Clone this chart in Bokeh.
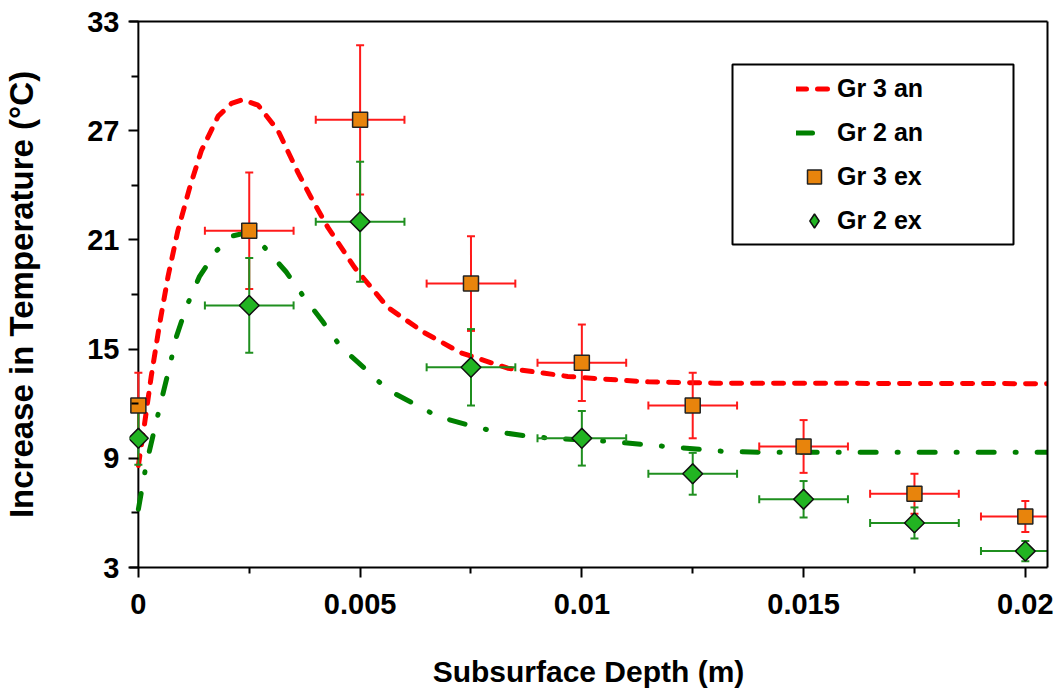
import math
from bokeh.plotting import figure
from bokeh.models import (Range1d, FixedTicker, LinearAxis, Legend, LegendItem, Span,
                          BoxAnnotation)
from bokeh.embed import file_html
from bokeh.resources import INLINE

# ---- data ----
depth = [0, 0.0025, 0.005, 0.0075, 0.01, 0.0125, 0.015, 0.0175, 0.02]
depth_err = [0, 0.001, 0.001, 0.001, 0.001, 0.001, 0.001, 0.001, 0.001]
gr3_ex = [11.9, 21.5, 27.6, 18.6, 14.25, 11.9, 9.65, 7.05, 5.8]
gr3_err = [1.8, 3.2, 4.1, 2.6, 2.1, 1.8, 1.45, 1.1, 0.85]
gr2_ex = [10.1, 17.4, 22.0, 14.0, 10.1, 8.15, 6.75, 5.45, 3.9]
gr2_err = [1.45, 2.6, 3.3, 2.1, 1.5, 1.15, 1.0, 0.85, 0.55]

an3_x = [0, 0.00014, 0.00029, 0.00048, 0.00067, 0.00089, 0.00116, 0.00142, 0.0018,
         0.0021, 0.00235, 0.0027, 0.00315, 0.0036, 0.0039, 0.00427, 0.00487, 0.00562,
         0.00645, 0.00727, 0.00833, 0.00968, 0.0105, 0.0115, 0.013, 0.0205]
an3_y = [8.6, 10.9, 13.5, 16.4, 19.0, 21.5, 23.9, 25.9, 27.8,
         28.5, 28.7, 28.4, 27.0, 24.7, 23.3, 21.7, 19.5, 17.3,
         15.9, 14.8, 13.95, 13.5, 13.35, 13.2, 13.13, 13.1]

an2_x = [0, 0.00018, 0.00052, 0.0007, 0.00086, 0.00108, 0.00138, 0.00176, 0.0021,
         0.00245, 0.00284, 0.00333, 0.00375, 0.00416, 0.00457, 0.0051, 0.00562,
         0.00619, 0.00675, 0.00742, 0.00802, 0.0087, 0.0093, 0.0106, 0.0119, 0.0132,
         0.014, 0.0205]
an2_y = [6.2, 8.7, 12.2, 14.0, 15.7, 17.3, 19.0, 20.4, 21.2,
         21.4, 20.6, 19.25, 17.8, 16.5, 15.1, 13.95, 12.76,
         12.03, 11.3, 10.84, 10.48, 10.24, 10.1, 9.93, 9.65, 9.38,
         9.33, 9.33]

x_ticks = [0, 0.005, 0.01, 0.015, 0.02]
x_tick_labels = ["0", "0.005", "0.01", "0.015", "0.02"]
x_minor = [0.0025, 0.0075, 0.0125, 0.0175]
y_ticks = [3, 9, 15, 21, 27, 33]
y_minor = [6, 12, 18, 24, 30]

FONT = "Liberation Sans"
RED = "#FF0000"
GREEN = "#008000"
RED_BAR = "#FF1A1A"
GREEN_BAR = "#1F8F1F"
SQ_FILL = "#E8840C"
DM_FILL = "#22B422"

p = figure(width=1057, height=690,
           x_range=Range1d(-0.0002, 0.0205), y_range=Range1d(3, 33),
           output_backend="svg", toolbar_location=None,
           min_border_left=128, min_border_right=10,
           min_border_top=21, min_border_bottom=122)
p.grid.visible = False
p.outline_line_color = None

# axes
xa = p.xaxis[0]
xa.ticker = FixedTicker(ticks=x_ticks, minor_ticks=x_minor)
xa.major_label_overrides = {t: l for t, l in zip(x_ticks, x_tick_labels)}
xa.axis_label = "Subsurface Depth (m)"
xa.major_tick_out = 10
xa.major_tick_in = 0
xa.minor_tick_out = 6
xa.minor_tick_in = 0
xa.major_label_standoff = 16
xa.axis_label_standoff = 38
xa.axis_line_width = 2
xa.axis_line_color = "black"
xa.axis_label_text_font_size = "30px"

ya = p.yaxis[0]
ya.ticker = FixedTicker(ticks=y_ticks, minor_ticks=y_minor)
ya.axis_label = "Increase in Temperature (°C)"
ya.axis_line_color = None
ya.major_tick_in = 9
ya.major_tick_out = 1
ya.minor_tick_in = 9
ya.minor_tick_out = -2
ya.major_label_standoff = 9
ya.axis_label_standoff = 44
ya.axis_label_text_font_size = "33px"

for ax in (xa, ya):
    ax.major_tick_line_width = 2
    ax.minor_tick_line_width = 2
    ax.major_tick_line_color = "black"
    ax.minor_tick_line_color = "black"
    ax.major_label_text_font = FONT
    ax.major_label_text_font_style = "bold"
    ax.major_label_text_font_size = "29px"
    ax.major_label_text_color = "black"
    ax.axis_label_text_font = FONT
    ax.axis_label_text_font_style = "bold"
    ax.axis_label_text_color = "black"

# visible y axis line at depth 0
p.add_layout(Span(location=0, dimension="height", line_color="black",
                  line_width=2, level="underlay"))

for loc in ("above", "right"):
    bax = LinearAxis(ticker=FixedTicker(ticks=[]), major_tick_out=0, major_tick_in=0,
                     minor_tick_out=0, minor_tick_in=0, axis_line_width=2,
                     axis_line_color="black", major_label_text_font_size="0px")
    p.add_layout(bax, loc)

# analytical curves
red_line = p.line(an3_x, an3_y, line_color=RED, line_width=5,
                  line_dash="10 11", line_cap="round")
green_line = p.line(an2_x, an2_y, line_color=GREEN, line_width=5,
                    line_dash="16 21 1 21", line_cap="round")

# error bars
def error_bars(ys, errs, color):
    lo = [y - e for y, e in zip(ys, errs)]
    hi = [y + e for y, e in zip(ys, errs)]
    xl = [x - e for x, e in zip(depth, depth_err)]
    xr = [x + e for x, e in zip(depth, depth_err)]
    p.segment(x0=depth, y0=lo, x1=depth, y1=hi, line_color=color, line_width=2)
    p.segment(x0=xl, y0=ys, x1=xr, y1=ys, line_color=color, line_width=2)
    p.scatter(depth + depth, lo + hi, marker="dash", size=8, line_color=color, line_width=2)
    p.scatter(xl + xr, list(ys) + list(ys), marker="dash", size=8, angle=math.pi / 2,
              line_color=color, line_width=2)

error_bars(gr3_ex, gr3_err, RED_BAR)
error_bars(gr2_ex, gr2_err, GREEN_BAR)

sq = p.scatter(depth, gr3_ex, marker="square", size=15, fill_color=SQ_FILL,
               line_color="#222222", line_width=1.5)
# diamond glyph (used for the legend swatch), covered by the rotated squares below
dm_key = p.scatter(depth, gr2_ex, marker="diamond", size=19, fill_color=DM_FILL,
                   line_color="#111111", line_width=1.5)
dm = p.scatter(depth, gr2_ex, marker="square", angle=math.pi / 4, size=14,
               fill_color=DM_FILL, line_color="#111111", line_width=1.5)

# legend frame (screen units relative to the plot frame)
p.add_layout(BoxAnnotation(left=603, right=884, bottom=323, top=503,
                           left_units="screen", right_units="screen",
                           bottom_units="screen", top_units="screen",
                           fill_color="white", fill_alpha=1,
                           line_color="black", line_width=2, line_alpha=1))

legend = Legend(items=[LegendItem(label="Gr 3 an", renderers=[red_line]),
                       LegendItem(label="Gr 2 an", renderers=[green_line]),
                       LegendItem(label="Gr 3 ex", renderers=[sq]),
                       LegendItem(label="Gr 2 ex", renderers=[dm_key])],
                location=(667, 329), padding=9, spacing=9,
                glyph_width=36, glyph_height=35, label_height=35,
                label_standoff=5, label_width=100,
                label_text_font=FONT, label_text_font_style="bold",
                label_text_font_size="25px", label_text_color="black",
                border_line_color=None, background_fill_alpha=0)
p.add_layout(legend)

open("out.html", "w").write(file_html(p, INLINE))
